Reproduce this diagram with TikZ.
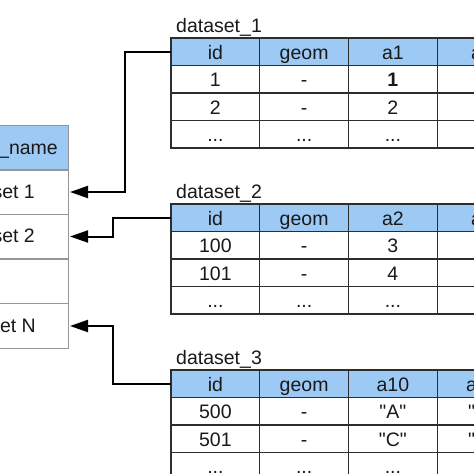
\documentclass[tikz,border=0pt]{standalone}
\usepackage{fontspec}
\setmainfont{Liberation Sans}[Ligatures=TeXOff]
\usetikzlibrary{arrows.meta}
\definecolor{hdr}{RGB}{157,201,245}
\definecolor{gridc}{RGB}{45,45,45}
\definecolor{lgrid}{RGB}{150,150,150}
\definecolor{ink}{RGB}{25,25,25}
\newcommand\mydots{...}
\tikzset{
  cellbox/.style={draw=gridc, line width=1.3pt, minimum width=88.75pt, minimum height=27.5pt, inner sep=0pt, outer sep=0pt},
  hdrbox/.style={cellbox, fill=hdr},
  lcell/.style={draw=lgrid, line width=1pt, minimum width=90pt, minimum height=44.4pt, inner sep=0pt, outer sep=0pt},
  txt/.style={font=\fontsize{19.5}{22}\selectfont, inner sep=0pt, text=ink},
  conn/.style={line width=2pt, draw=black, -{Triangle[length=18pt,width=12pt]}},
}
\begin{document}
\begin{tikzpicture}[x=1pt, y=-1pt]
\useasboundingbox (0,0) rectangle (474,474);
\clip (0,0) rectangle (474,474);
\fill[white] (0,0) rectangle (474,474);

% left table (dataset list)
\node[lcell, fill=hdr] (L0) at (23,148) {};
\foreach \i/\y in {1/192,2/236.5,3/281.5,4/326}
  \node[lcell] (L\i) at (23,\y) {};
\node[txt, anchor=base east] (Lt0) at (58,154) {\_name};
\node[txt, anchor=base east] (Lt1) at (35,198) {set 1};
\node[txt, anchor=base east] (Lt2) at (35,242.5) {set 2};
\node[txt, anchor=base east] (Lt4) at (36,332) {et N};

% dataset tables
\foreach \tb/\tp in {1/38,2/204,3/370}{
  \foreach \cc in {0,1,2,3,4}{
    \pgfmathsetmacro\xx{171+88.75*\cc+44.375}
    \pgfmathsetmacro\yy{\tp+13.75}
    \node[hdrbox] (T\tb-\cc-0) at (\xx,\yy) {};
    \foreach \rr in {1,2,3}{
      \pgfmathsetmacro\yr{\tp+27.5*\rr+13.75}
      \node[cellbox] (T\tb-\cc-\rr) at (\xx,\yr) {};
    }
  }
}

% table titles
\node[txt, anchor=base west] (N1) at (176,32) {dataset\_1};
\node[txt, anchor=base west] (N2) at (176,198) {dataset\_2};
\node[txt, anchor=base west] (N3) at (176,364) {dataset\_3};

% cell texts
\foreach \tb/\rr/\va/\vb/\vc in {
  1/0/id/geom/a1, 1/1/1/-/{\textbf{1}}, 1/2/2/-/2, 1/3/\mydots/\mydots/\mydots,
  2/0/id/geom/a2, 2/1/100/-/3, 2/2/101/-/4, 2/3/\mydots/\mydots/\mydots,
  3/0/id/geom/a10, 3/1/500/-/"A", 3/2/501/-/"C", 3/3/\mydots/\mydots/\mydots}{
  \node[txt, anchor=base] (X\tb-0-\rr) at ([yshift=-7.5pt]T\tb-0-\rr.center) {\va};
  \node[txt, anchor=base] (X\tb-1-\rr) at ([yshift=-7.5pt]T\tb-1-\rr.center) {\vb};
  \node[txt, anchor=base] (X\tb-2-\rr) at ([yshift=-7.5pt]T\tb-2-\rr.center) {\vc};
}

% fragments of the cut-off fifth column
\node[txt, anchor=base west] (F1) at (471,59) {a};
\node[txt, anchor=base west] (F2) at (471,225) {a};
\node[txt, anchor=base west] (F3) at (466,391) {a};
\node[txt, anchor=base west] (F4) at (468,418.5) {"};
\node[txt, anchor=base west] (F5) at (468,446) {"};

% connectors
\draw[conn] (T1-0-0.west) -- ++(-46,0) |- ([xshift=2pt]L1.east);
\draw[conn] (T2-0-0.west) -- ++(-58,0) |- ([xshift=2pt]L2.east);
\draw[conn] (T3-0-0.west) -- ++(-58,0) |- ([xshift=2pt]L4.east);
\end{tikzpicture}
\end{document}
